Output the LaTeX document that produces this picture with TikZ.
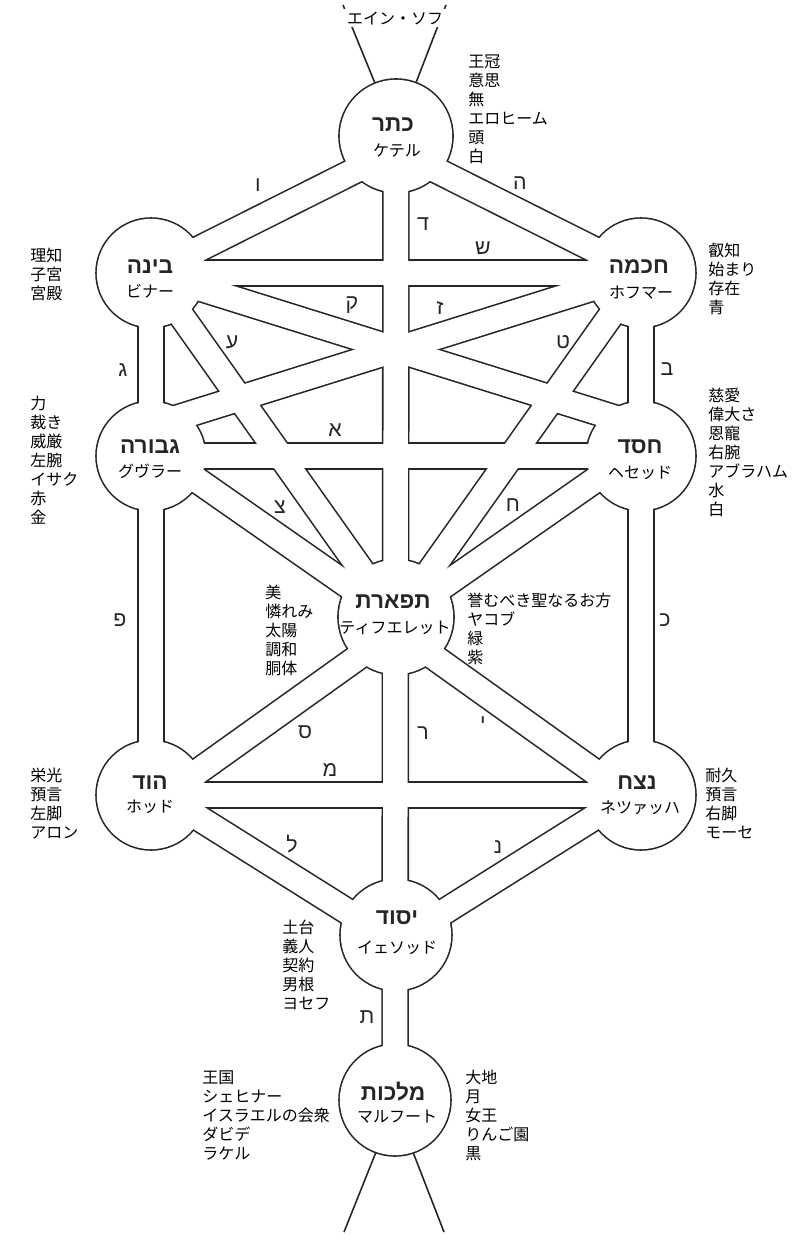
\documentclass[tikz,border=0pt]{standalone}
\usepackage{fontspec}
\newfontfamily\jp{Noto Sans CJK JP}
\newfontfamily\heb[Script=Hebrew]{Liberation Sans}
\TeXXeTstate=1
\begin{document}
\begin{tikzpicture}[x=0.75pt,y=-0.75pt,
  blk/.style={line width=20.7pt, draw=black!85, line cap=butt},
  wht/.style={line width=18.3pt, draw=white, line cap=butt},
  thin/.style={line width=1.2pt, draw=black!85},
  jtxt/.style={font=\jp\fontsize{12}{14.25}\selectfont, inner sep=0pt},
  jlist/.style={jtxt, anchor=north west, align=left},
  hname/.style={font=\heb\bfseries\fontsize{17}{17}\selectfont, inner sep=0pt, text=black!85},
  pl/.style={font=\heb\fontsize{16}{16}\selectfont, inner sep=0pt, text=black!85}]
\useasboundingbox (0,0) rectangle (795,1259);
\fill[white] (0,0) rectangle (795,1259);
% centres
\coordinate (K) at (396,136);
\coordinate (B) at (151,273);
\coordinate (C) at (641,273);
\coordinate (G) at (151,456);
\coordinate (H) at (641,456);
\coordinate (T) at (396,617);
\coordinate (O) at (151,795);
\coordinate (N) at (641,795);
\coordinate (Y) at (396,935);
\coordinate (M) at (395,1100);
% channel end points
\coordinate (Kb) at (396,150);
\coordinate (Gx) at (151,426);
\coordinate (Hx) at (641,426);
\coordinate (Gt) at (151,448);
\coordinate (Ht) at (641,448);
\coordinate (Tu) at (396,619);
\coordinate (Tl) at (396,630);
\coordinate (Oy) at (151,788);
\coordinate (Ny) at (641,788);
\coordinate (Ot) at (151,805);
\coordinate (Nt) at (641,805);
\coordinate (Yh) at (396,942);
% open ends
\coordinate (A1i) at (379,93);  \coordinate (A1o) at (343,5);
\coordinate (A2i) at (412,93);  \coordinate (A2o) at (446,5);
\coordinate (Z1i) at (378,1147); \coordinate (Z1o) at (344,1232);
\coordinate (Z2i) at (411,1147); \coordinate (Z2o) at (444,1232);
% black layer
\foreach \a/\b in {B/Kb,C/Kb,K/M,B/C,B/O,C/N,G/H,O/N,B/Hx,C/Gx,B/Tu,C/Tu,Gt/Tu,Ht/Tu,Tl/Ot,Tl/Nt,Oy/Yh,Ny/Yh}
  \draw[blk] (\a) -- (\b);
\draw[thin] (A1i) -- (A1o);
\draw[thin] (A2i) -- (A2o);
\draw[thin] (Z1i) -- (Z1o);
\draw[thin] (Z2i) -- (Z2o);
\foreach \c/\r in {K/57,B/55,C/55,G/55,H/55,T/58,O/55,N/55,Y/56,M/56}
  \fill[black!85] (\c) circle[radius=\r+0.8];
% white layer
\foreach \a/\b in {B/Kb,C/Kb,K/M,B/C,B/O,C/N,G/H,O/N,B/Hx,C/Gx,B/Tu,C/Tu,Gt/Tu,Ht/Tu,Tl/Ot,Tl/Nt,Oy/Yh,Ny/Yh}
  \draw[wht] (\a) -- (\b);
\foreach \c/\r in {K/57,B/55,C/55,G/55,H/55,T/58,O/55,N/55,Y/56,M/56}
  \fill[white] (\c) circle[radius=\r-0.8];
% Ain Soph
\node[jtxt, fill=white, inner sep=2pt] (ain) at (395,18) {エイン・ソフ};
% sephirot names
\node[hname] (hK) at (393,125) {\beginR כתר\endR};
\node[jtxt] (jK) at (397,151) {ケテル};
\node[hname] (hB) at (150,267) {\beginR בינה\endR};
\node[jtxt] (jB) at (150,291) {ビナー};
\node[hname] (hC) at (639,267) {\beginR חכמה\endR};
\node[jtxt] (jC) at (641,293) {ホフマー};
\node[hname] (hG) at (150,447) {\beginR גבורה\endR};
\node[jtxt] (jG) at (150,471) {グヴラー};
\node[hname] (hH) at (640,447) {\beginR חסד\endR};
\node[jtxt] (jH) at (640,473) {ヘセッド};
\node[hname] (hT) at (393,602) {\beginR תפארת\endR};
\node[jtxt] (jT) at (395,628) {ティフエレット};
\node[hname] (hO) at (150,783) {\beginR הוד\endR};
\node[jtxt] (jO) at (150,807) {ホッド};
\node[hname] (hN) at (637,783) {\beginR נצח\endR};
\node[jtxt] (jN) at (640,808) {ネツァッハ};
\node[hname] (hY) at (397,918) {\beginR יסוד\endR};
\node[jtxt] (jY) at (397,948) {イェソッド};
\node[hname] (hM) at (393,1092) {\beginR מלכות\endR};
\node[jtxt] (jM) at (397,1117) {マルフート};
% attribute lists
\node[jlist] (lK) at (468,55) {王冠\\意思\\無\\エロヒーム\\頭\\白};
\node[jlist] (lB) at (30,248) {理知\\子宮\\宮殿};
\node[jlist] (lC) at (708,243) {叡知\\始まり\\存在\\青};
\node[jlist] (lG) at (30,396) {力\\裁き\\威厳\\左腕\\イサク\\赤\\金};
\node[jlist] (lH) at (708,388) {慈愛\\偉大さ\\恩寵\\右腕\\アブラハム\\水\\白};
\node[jlist] (lT1) at (265,585) {美\\憐れみ\\太陽\\調和\\胴体};
\node[jlist] (lT2) at (467,593) {誉むべき聖なるお方\\ヤコブ\\緑\\紫};
\node[jlist] (lO) at (30,768) {栄光\\預言\\左脚\\アロン};
\node[jlist] (lN) at (705,768) {耐久\\預言\\右脚\\モーセ};
\node[jlist] (lY) at (282,920) {土台\\義人\\契約\\男根\\ヨセフ};
\node[jlist] (lM1) at (202,1070) {王国\\シェヒナー\\イスラエルの会衆\\ダビデ\\ラケル};
\node[jlist] (lM2) at (465,1070) {大地\\月\\女王\\りんご園\\黒};
% path letters
\node[pl] (p1) at (258,185) {ו};
\node[pl] (p2) at (520,183) {ה};
\node[pl] (p3) at (423,224) {ד};
\node[pl] (p4) at (483,248) {ש};
\node[pl] (p5) at (352,305) {ק};
\node[pl] (p6) at (440,308) {ז};
\node[pl] (p7) at (232,342) {ע};
\node[pl] (p8) at (563,342) {ט};
\node[pl] (p9) at (123,370) {ג};
\node[pl] (p10) at (667,369) {ב};
\node[pl] (p11) at (335,430) {א};
\node[pl] (p12) at (280,507) {צ};
\node[pl] (p13) at (513,505) {ח};
\node[pl] (p14) at (120,620) {פ};
\node[pl] (p15) at (665,620) {כ};
\node[pl] (p16) at (305,732) {ס};
\node[pl] (p17) at (330,770) {מ};
\node[pl] (p18) at (423,733) {ר};
\node[pl] (p19) at (483,723) {י};
\node[pl] (p20) at (292,844) {ל};
\node[pl] (p21) at (498,847) {נ};
\node[pl] (p22) at (367,1017) {ת};
\end{tikzpicture}
\end{document}
